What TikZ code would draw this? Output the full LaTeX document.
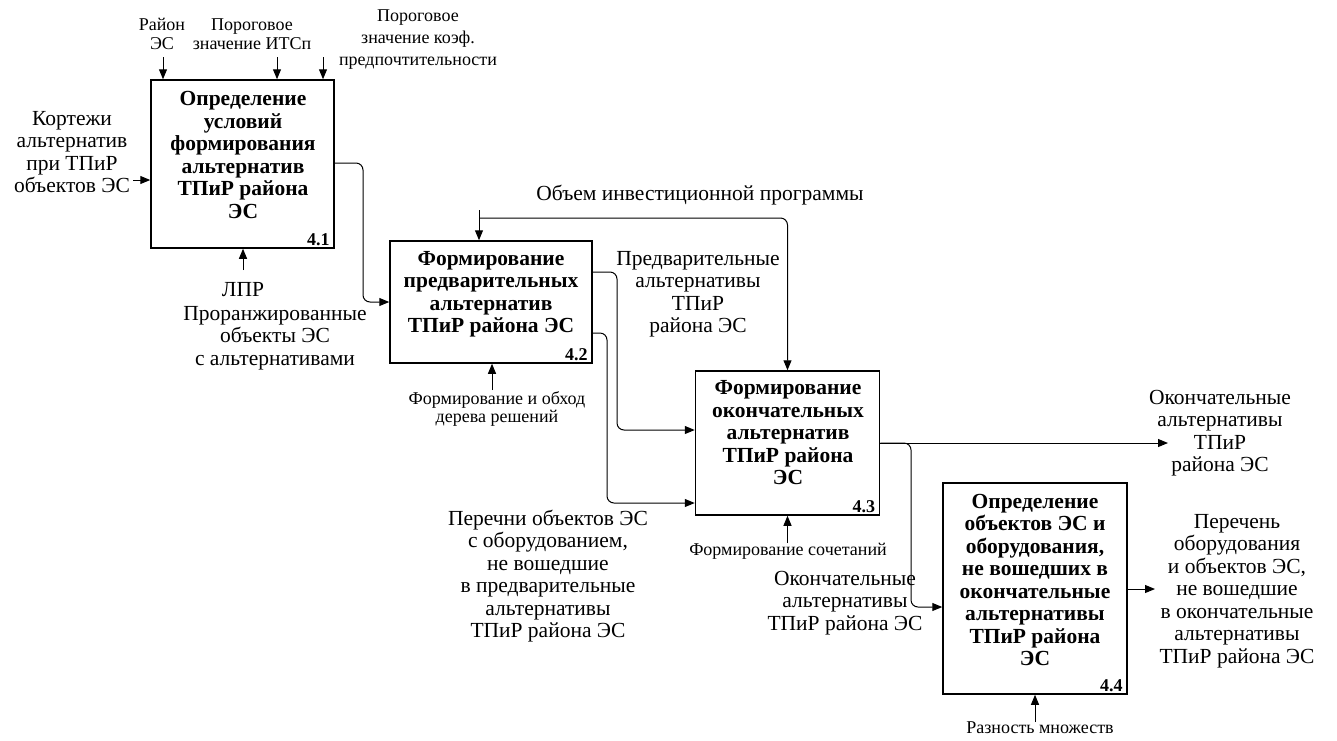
\documentclass[tikz,border=0pt]{standalone}
\usepackage{fontspec}
\setmainfont{Liberation Serif}
\usetikzlibrary{arrows.meta,calc}
\begin{document}
\begin{tikzpicture}[x=1pt,y=-1pt,
  box/.style={draw, line width=1.5pt, inner sep=0pt},
  title/.style={align=center, font=\fontsize{21.5}{22.5}\selectfont\bfseries, inner sep=0pt},
  num/.style={font=\fontsize{18}{20}\selectfont\bfseries, inner sep=0pt},
  lbl/.style={align=center, font=\fontsize{21.5}{22.5}\selectfont, inner sep=0pt},
  slbl/.style={align=center, font=\fontsize{18}{18.5}\selectfont, inner sep=0pt},
  arr/.style={line width=1pt, -{Triangle[length=10pt,width=8pt]}, rounded corners=7pt},
  ln/.style={line width=1pt, rounded corners=7pt}]
\useasboundingbox (0,0) rectangle (1337,740);
% boxes
\node[box, minimum width=183pt, minimum height=168pt] (b1) at (242.5,164) {};
\node[box, minimum width=202pt, minimum height=122pt] (b2) at (491,302) {};
\node[box, minimum width=184pt, minimum height=144pt] (b3) at (787.5,443) {};
\node[box, minimum width=184pt, minimum height=211pt] (b4) at (1035,588.5) {};
% titles
\node[title] (t1) at (243,155) {Определение\\условий\\формирования\\альтернатив\\ТПиР района\\ЭС};
\node[title] (t2) at (491,294) {Формирование\\предварительных\\альтернатив\\ТПиР района ЭС};
\node[title] (t3) at (788,433) {Формирование\\окончательных\\альтернатив\\ТПиР района\\ЭС};
\node[title] (t4) at (1035,580) {Определение\\объектов ЭС и\\оборудования,\\не вошедших в\\окончательные\\альтернативы\\ТПиР района\\ЭС};
\node[num, anchor=south east] (n1) at ($(b1.south east)+(-5,-3)$) {4.1};
\node[num, anchor=south east] (n2) at ($(b2.south east)+(-5,-3)$) {4.2};
\node[num, anchor=south east] (n3) at ($(b3.south east)+(-5,-3)$) {4.3};
\node[num, anchor=south east] (n4) at ($(b4.south east)+(-5,-3)$) {4.4};
% labels
\node[slbl] (l1) at (162,34) {Район\\ЭС};
\node[slbl] (l2) at (252,34) {Пороговое\\значение ИТСп};
\node[slbl, font=\fontsize{18}{22}\selectfont] (l3) at (418,40) {Пороговое\\значение коэф.\\предпочтительности};
\node[lbl] (l4) at (72,152) {Кортежи\\альтернатив\\при ТПиР\\объектов ЭС};
\node[lbl] (l5) at (243,290) {ЛПР};
\node[lbl] (l6) at (275,338) {Проранжированные\\объекты ЭС\\с альтернативами};
\node[lbl] (l7) at (700,195) {Объем инвестиционной программы};
\node[lbl] (l8) at (698,294) {Предварительные\\альтернативы\\ТПиР\\района ЭС};
\node[slbl] (l9) at (497,409) {Формирование и обход\\дерева решений};
\node[lbl] (l10) at (548,576) {Перечни объектов ЭС\\с оборудованием,\\не вошедшие\\в предварительные\\альтернативы\\ТПиР района ЭС};
\node[slbl] (l11) at (788,551) {Формирование сочетаний};
\node[lbl] (l12) at (1220,433) {Окончательные\\альтернативы\\ТПиР\\района ЭС};
\node[lbl] (l13) at (845,603) {Окончательные\\альтернативы\\ТПиР района ЭС};
\node[lbl] (l14) at (1237,591) {Перечень\\оборудования\\и объектов ЭС,\\не вошедшие\\в окончательные\\альтернативы\\ТПиР района ЭС};
\node[slbl] (l15) at (1040,728) {Разность множеств};
% connector end coordinates
\coordinate (c1) at (163,57);
\coordinate (c2) at (277,57);
\coordinate (c3) at (323,57);
\coordinate (c4) at (133,180);
\coordinate (c5) at (243,270);
\coordinate (c6) at (479,210);
\coordinate (c7) at (492,390);
\coordinate (c8) at (787.5,543);
\coordinate (c9) at (1168,443);
\coordinate (c10) at (1155,589);
\coordinate (c11) at (1035,722);
% connectors
\draw[arr] (c1) -- (c1 |- b1.north);
\draw[arr] (c2) -- (c2 |- b1.north);
\draw[arr] (c3) -- (c3 |- b1.north);
\draw[arr] (c4) -- (c4 -| b1.west);
\draw[arr] (c5) -- (c5 |- b1.south);
\draw[arr] (b1.east |- 0,163) -- (363,163) -- (363,302) -- (b2.west);
\draw[arr] (c6) -- (c6 |- b2.north);
\draw[arr] (479,218) -- (787.5,218) -- (b3.north);
\draw[arr] (b2.east |- 0,272) -- (617,272) -- (617,430) -- (b3.west |- 0,430);
\draw[arr] (b2.east |- 0,333) -- (607,333) -- (607,503) -- (b3.west |- 0,503);
\draw[arr] (c7) -- (c7 |- b2.south);
\draw[arr] (c8) -- (b3.south);
\draw[arr] (b3.east) -- (c9);
\draw[arr] (b3.east) -- (911,443) -- (911,607) -- (b4.west |- 0,607);
\draw[arr] (b4.east |- 0,589) -- (c10);
\draw[arr] (c11) -- (b4.south);
\end{tikzpicture}
\end{document}
